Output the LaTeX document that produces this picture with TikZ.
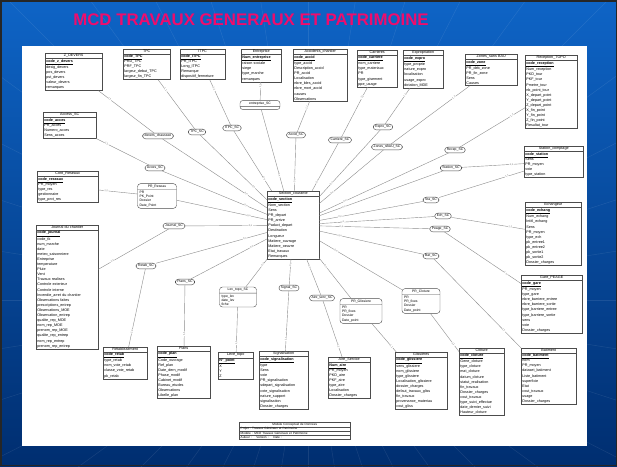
\documentclass[tikz,border=0pt]{standalone}
\usepackage{fontspec}
\setmainfont{Liberation Sans}
\usetikzlibrary{shapes.multipart}

\definecolor{slideblue}{RGB}{14,100,198}
\definecolor{slidedark}{RGB}{0,46,112}
\definecolor{titlered}{RGB}{240,12,108}

\newcommand\entfont{\fontsize{3.7}{5.1}\selectfont}
\newcommand\relfont{\fontsize{3.4}{4.2}\selectfont}
\newcommand\cardfont{\fontsize{2.5}{3}\selectfont}
\newcommand\titre[1]{\hbox to\hsize{\hfil#1\hfil}}

\tikzset{
  entity/.style={rectangle split, rectangle split parts=2, draw=black!70,
    line width=0.4pt, fill=white, font=\entfont, align=left,
    inner xsep=1.2pt, inner ysep=0.8pt, anchor=north west},
  relbox/.style={draw=black!70, line width=0.4pt, rounded corners=3pt,
    fill=white, font=\relfont, inner xsep=2pt, inner ysep=1.3pt},
  relattr/.style={relbox, rectangle split, rectangle split parts=2, align=left},
  link/.style={draw=black!45, line width=0.4pt},
  card/.style={font=\cardfont, text=black!55, inner sep=0.4pt, fill=white, sloped},
}

\begin{document}
\begin{tikzpicture}[x=1pt, y=-1pt]
\useasboundingbox (0,0) rectangle (617,466);

% fond de la diapositive
\begin{scope}
  \clip (0,0) rectangle (617,466);
  \shade[top color=slideblue, bottom color=slidedark] (0,0) rectangle (617,466);
  \foreach \a in {0,9,...,351}
    \draw[white, opacity=0.09, line width=0.5pt] (308,300) -- ++(\a:800);
\end{scope}
\draw[black!85, line width=1.5pt] (0.75,0.75) rectangle (616.25,465.25);
\fill[white] (22,46) rectangle (587,446);

\node[font=\fontsize{16.8}{18}\selectfont\bfseries, text=titlered] (titre) at (251,20)
  {MCD TRAVAUX GENERAUX ET PATRIMOINE};

% entite centrale
\node[entity, text width=49.6pt] (section) at (267,191) {\titre{Section\_courante}
  \nodepart{two} \underline{\textbf{code\_section}}\\ Nom\_section\\ Sens\\ PR\_depart\\
  PR\_arrive\\ Paduct\_depart\\ Destination\\ Longueur\\ Matiere\_ouvrage\\
  Matiere\_oeuvre\\ Etat\_travaux\\ Remarques};

% entites du haut
\node[entity, text width=54.6pt] (zdevers) at (45,53) {\titre{Z\_DEVERS}
  \nodepart{two} \underline{\textbf{code\_z\_devers}}\\ desig\_devers\\ pos\_devers\\
  pst\_devers\\ valeur\_devers\\ remarques};
\node[entity, text width=44.6pt] (tpc) at (123,49) {\titre{TPC}
  \nodepart{two} \underline{\textbf{code\_TPC}}\\ PRD\_TPC\\ PRF\_TPC\\
  largeur\_debut\_TPC\\ largeur\_fin\_TPC};
\node[entity, text width=42.6pt] (itpc) at (180,49) {\titre{ITPC}
  \nodepart{two} \underline{\textbf{code\_ITPC}}\\ PR\_ITPC\\ Long\_ITPC\\
  Remarque\\ dispositif\_fermeture};
\node[entity, text width=37.6pt] (entreprise) at (241,49) {\titre{Entreprise}
  \nodepart{two} \underline{\textbf{Num\_entreprise}}\\ raison sociale\\ siege\\
  type\_marche\\ remarques};
\node[entity, text width=51.6pt] (accidents) at (293,49) {\titre{Accidents\_chantier}
  \nodepart{two} \underline{\textbf{code\_accid}}\\ type\_accid\\ Description\_accid\\
  PR\_accid\\ Localisation\\ nbre\_bles\_accid\\ nbre\_mort\_accid\\ causes\\ Observations};
\node[entity, text width=37.6pt] (carrieres) at (357,50) {\titre{Carrieres}
  \nodepart{two} \underline{\textbf{code\_carriere}}\\ nom\_carriere\\ type\_materiaux\\
  PR\\ type\_gisement\\ ppe\_usage};
\node[entity, text width=37.6pt] (expro) at (403,50) {\titre{Expropriation}
  \nodepart{two} \underline{\textbf{code\_expro}}\\ type\_proprie\\ nature\_expro\\
  localisation\\ usage\_expro\\ dotation\_MDE};
\node[entity, text width=49.6pt] (zones) at (465,54) {\titre{Zones\_sans BAU}
  \nodepart{two} \underline{\textbf{code\_zone}}\\ PR\_deb\_zone\\ PR\_fin\_zone\\
  Sens\\ Causes};
\node[entity, text width=49.6pt] (recep) at (525,55) {\titre{Reception\_TOPO}
  \nodepart{two} \underline{\textbf{code\_reception}}\\ Num\_reception\\ PKD\_tour\\
  PKF\_tour\\ Pmetre\_tour\\ nb\_point\_tour\\ X\_depart\_point\\ Y\_depart\_point\\
  Z\_depart\_point\\ X\_fin\_point\\ Y\_fin\_point\\ Z\_fin\_point\\ Resultat\_tour};

% entites de droite
\node[entity, text width=56.6pt] (station) at (524,146) {\titre{Station\_comptage}
  \nodepart{two} \underline{\textbf{code\_station}}\\ Sens\\ PR\_moyen\\ voie\\ type\_station};
\node[entity, text width=53.6pt] (echang) at (525,202) {\titre{Echangeur}
  \nodepart{two} \underline{\textbf{code\_echang}}\\ Num\_echang\\ Intitl\_echang\\ Sens\\
  PR\_moyen\\ type\_ech\\ pk\_entree1\\ pk\_entree2\\ pk\_sortie1\\ pk\_sortie2\\
  Dossier\_charges};
\node[entity, text width=58.6pt] (gare) at (521,275) {\titre{Gare\_PEAGE}
  \nodepart{two} \underline{\textbf{code\_gare}}\\ PR\_moyen\\ type\_gare\\
  nbre\_barriere\_entree\\ nbre\_barriere\_sortie\\ type\_barriere\_entree\\
  type\_barriere\_sortie\\ sens\\ voie\\ Dossier\_charges};
\node[entity, text width=52.6pt] (batiment) at (521,348) {\titre{Batiment}
  \nodepart{two} \underline{\textbf{code\_batiment}}\\ nom\\ PR\_moyen\\ dataset\_batiment\\
  Liste\_batiment\\ superficie\\ Etat\\ cout\_travaux\\ usage\\ Dossier\_charges};

% entites du bas
\node[entity, text width=42.6pt] (cloture) at (459,348) {\titre{Clôture}
  \nodepart{two} \underline{\textbf{code\_cloture}}\\ Gene\_cloture\\ type\_cloture\\
  mat\_cloture\\ datum\_cloture\\ statut\_realisation\\ fin\_travaux\\ Dossier\_charges\\
  cout\_travaux\\ type\_suivi\_effectue\\ date\_dernier\_suivi\\ Hauteur\_cloture};
\node[entity, text width=49.6pt] (gliss) at (395,352) {\titre{Glissières}
  \nodepart{two} \underline{\textbf{code\_glissiere}}\\ sens\_glissiere\\ nom\_glissiere\\
  type\_glissiere\\ Localisation\_glissiere\\ dossier\_charges\\ defaut\_travaux\_gliss\\
  fin\_travaux\\ provenance\_materiau\\ cout\_gliss};
\node[entity, text width=39.6pt] (aire) at (328,357) {\titre{Aire\_Service}
  \nodepart{two} \underline{\textbf{Num\_aire}}\\ PR\_moyen\\ PKD\_aire\\ PKF\_aire\\
  type\_aire\\ Localisation\\ Dossier\_charges};
\node[entity, text width=46.6pt] (signal) at (259,351) {\titre{Signalisation}
  \nodepart{two} \underline{\textbf{code\_signalisation}}\\ type\\ Sens\\ voie\\
  PR\_signalisation\\ sdepart\_signalisation\\ cote\_signalisation\\ nature\_support\\
  signalisation\\ Dossier\_charges};
\node[entity, text width=32.6pt] (levtopo) at (218,352) {\titre{Levé\_topo}
  \nodepart{two} \underline{\textbf{N°\_point}}\\ X\\ Y\\ Z\\[3pt]};
\node[entity, text width=50.6pt] (plans) at (157,346) {\titre{Plans}
  \nodepart{two} \underline{\textbf{code\_plan}}\\ Code\_ouvrage\\ Ref\_plan\\
  Date\_dern\_modif\\ Phase\_modif\\ Cabinet\_modif\\ Bureau\_etudes\\ Observations\\
  Libelle\_plan};
\node[entity, text width=41.6pt] (retab) at (103,347) {\titre{Rétablissement}
  \nodepart{two} \underline{\textbf{code\_retab}}\\ type\_retab\\ nom\_voie\_retab\\
  classe\_voie\_retab\\ pk\_retab};

% entites de gauche
\node[entity, text width=50.6pt] (acces) at (43,112) {\titre{Access\_SC}
  \nodepart{two} \underline{\textbf{code\_acces}}\\ PR\_acces\\ Numero\_acces\\ Sens\_acces};
\node[entity, text width=58.6pt] (reseaux) at (37,171) {\titre{Cont\_Reseaux}
  \nodepart{two} \underline{\textbf{code\_reseaux}}\\ PR\_moyen\\ type\_res\\
  gestionnaire\\ type\_prot\_res};
\node[entity, text width=59.6pt] (journal) at (36,225) {\titre{Journal du chantier}
  \nodepart{two} \underline{\textbf{code\_journal}}\\ code\_tk\\ num\_marche\\ date\\
  meteo\_saisonniere\\ Entreprise\\ temperature\\ Pluie\\ Vent\\ Travaux realises\\
  Controle exterieur\\ Controle interne\\ Incendie\_arret du chantier\\
  Observations faites\\ prescriptions\_entrep\\ Observations\_MOE\\ Observation\_entrep\\
  qualite\_rep\_MOE\\ nom\_rep\_MOE\\ prenom\_rep\_MOE\\ qualite\_rep\_entrep\\
  nom\_rep\_entrep\\ prenom\_rep\_entrep};

% associations
\node[relbox] (rdevers) at (158,136) {devers\_chaussee};
\node[relbox] (rtpc) at (197,132) {TPC\_SC};
\node[relbox] (ritpc) at (232,128) {ITPC\_SC};
\node[relattr, text width=36pt] (rentrep) at (260,105) {\titre{entreprise\_SC}
  \nodepart{two} \mbox{}};
\node[relbox] (raccid) at (296,135) {Accid\_SC};
\node[relbox] (rcarr) at (340,140) {Carriere\_SC};
\node[relbox] (rexpro) at (383,127) {Expro\_SC};
\node[relbox] (rzones) at (387,147) {Zones\_sBAU\_SC};
\node[relbox] (rrecep) at (455,150) {Recep\_SC};
\node[relbox] (rstation) at (451,168) {Station\_SC};
\node[relbox] (rcompt) at (431,200) {Sta\_SC};
\node[relbox] (rech) at (443,216) {Ech\_SC};
\node[relbox] (rpeage) at (440,229) {Peage\_SC};
\node[relbox] (rbat) at (431,256) {Bat\_SC};
\node[relattr, text width=34pt] (rcloture) at (421,301) {\titre{PR\_Cloture}
  \nodepart{two} PR\\ PR\_fixes\\ Dossier\\ Date\_point};
\node[relattr, text width=38pt] (rgliss) at (361,311) {\titre{PR\_Glissiere}
  \nodepart{two} PR\\ PR\_fixes\\ Dossier\\ Date\_point};
\node[relbox] (raire) at (322,298) {Aire\_serv\_SC};
\node[relbox] (rsignal) at (289,288) {Signal\_SC};
\node[relattr, text width=33pt] (rlevtopo) at (238,297) {\titre{Lev\_topo\_SC}
  \nodepart{two} type\_lev\\ date\_lev\\ fiche};
\node[relbox] (rplans) at (185,282) {Plans\_SC};
\node[relbox] (rretab) at (146,266) {Retab\_SC};
\node[relbox] (rjournal) at (174,226) {Journal\_SC};
\node[relattr, text width=35pt] (rreseau) at (157,196) {\titre{PR\_Reseau}
  \nodepart{two} PR\\ PK\_Point\\ Dossier\\ Date\_Point};
\node[relbox] (racces) at (155,168) {Acces\_SC};

% liens
\foreach \r/\e in {rdevers/zdevers, rtpc/tpc, ritpc/itpc, rentrep/entreprise,
    raccid/accidents, rcarr/carrieres, rexpro/expro, rzones/zones, rrecep/recep,
    rstation/station, rcompt/station, rech/echang, rpeage/gare, rbat/batiment,
    rcloture/cloture, rgliss/gliss, raire/aire, rsignal/signal, rlevtopo/levtopo,
    rplans/plans, rretab/retab, rjournal/journal, rreseau/reseaux, racces/acces}{
  \draw[link] (\r) -- node[card, pos=0.8] {1,1} (\e);
  \draw[link] (\r) -- node[card, pos=0.8] {0,n} (section);
}

% cartouche
\node[rectangle split, rectangle split parts=4, draw=black!70, line width=0.4pt,
  font=\fontsize{3.1}{4}\selectfont, align=left, text width=108pt, inner xsep=1.5pt,
  inner ysep=0.6pt, anchor=north west] (cartouche) at (239,422)
  {\titre{Modèle Conceptuel de Données}
   \nodepart{two} Projet : Travaux Généraux et Patrimoine
   \nodepart{three} Modèle : MCD Travaux Généraux et Patrimoine
   \nodepart{four} Auteur : \quad Version : \quad Date :};

\end{tikzpicture}
\end{document}
